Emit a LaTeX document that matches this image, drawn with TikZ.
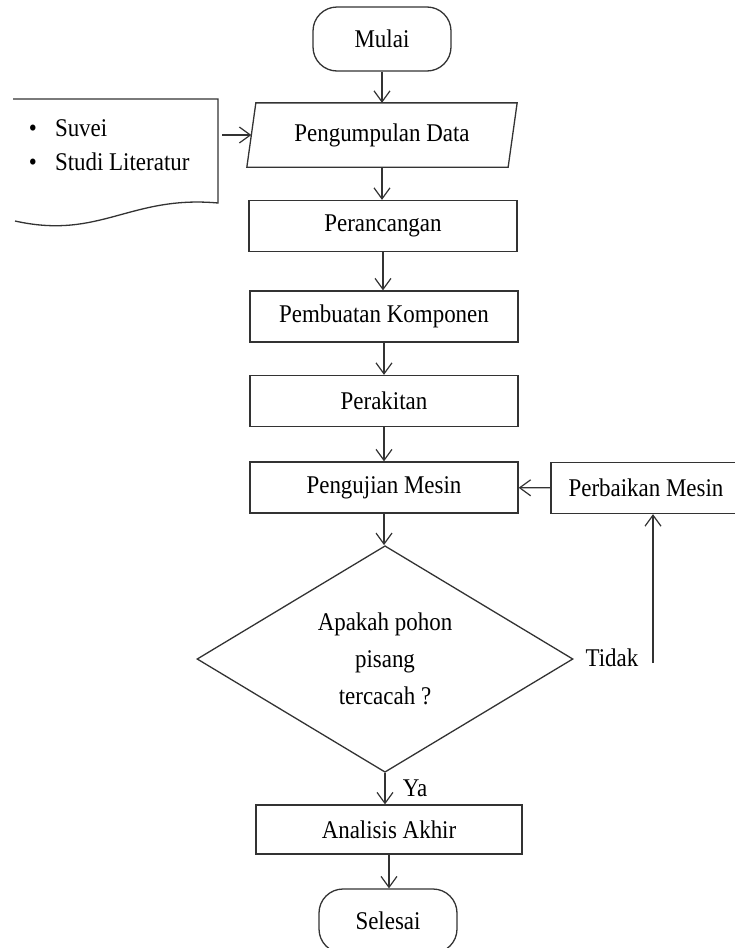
\documentclass[tikz,border=0pt]{standalone}
\usepackage{fontspec}
\setmainfont[FakeStretch=0.9]{Liberation Serif}
\usepackage{tikz}
\usetikzlibrary{shapes.geometric, arrows.meta, positioning}

\begin{document}
\begin{tikzpicture}[
    x=1pt, y=-1pt,
    font=\fontsize{25.5}{37}\selectfont,
    line width=1.3pt,
    terminal/.style={rectangle,rounded corners=24pt,draw=black!80,minimum width=138pt,minimum height=64pt},
    io/.style={rectangle,minimum width=260pt,minimum height=63pt},
    process/.style={rectangle,draw=black!80,minimum width=268pt,minimum height=51pt},
    decision/.style={diamond,draw=black!80,align=center,inner sep=0pt,minimum width=376pt,minimum height=212pt},
    arrow/.style={->,>={Straight Barb[length=11pt,width=16pt]},line width=1.2pt,draw=black!80}
]
\useasboundingbox (0,0) rectangle (734,948);

\node[terminal] (start) at (382,39) {Mulai};
\node[io] (collect) at (382,135) {Pengumpulan Data};
\node[process] (design) at (383,226) {Perancangan};
\node[process] (build) at (384,316.5) {Pembuatan Komponen};
\node[process] (assembly) at (384,401) {Perakitan};
\node[process] (test) at (384,487.5) {Pengujian Mesin};
\node[process, minimum width=190pt] (repair) at (646,488) {Perbaikan Mesin};
\node[decision] (check) at (385,659) {Apakah pohon\\pisang\\tercacah ?};
\node[process, minimum width=266pt, minimum height=49pt] (analysis) at (389,829.5) {Analisis Akhir};
\node[terminal] (finish) at (388,921) {Selesai};

% slanted input box around the data node
\draw[draw=black!80] ([xshift=4.5pt]collect.north west) -- ([xshift=4.5pt]collect.north east)
    -- ([xshift=-4.5pt]collect.south east) -- ([xshift=-4.5pt]collect.south west) -- cycle;

% document with the data sources
\draw[draw=black!80] (13,99) -- (218,99) -- (218,203)
    .. controls (130,195) and (100,240) .. (15,221);
\node[anchor=west, align=left, font=\fontsize{25.5}{34}\selectfont] (sources) at (25,145)
    {\textbullet\hspace{18pt}Suvei\\ \textbullet\hspace{18pt}Studi Literatur};
\coordinate (sources out) at (222,135);

\node (no) at (612,658) {Tidak};
\coordinate (no up) at (653,663);

\draw[arrow] (start.south) -- (start.south |- collect.north);
\draw[arrow] (sources out) -- (collect);
\draw[arrow] (collect.south) -- (collect.south |- design.north);
\draw[arrow] (design.south) -- (design.south |- build.north);
\draw[arrow] (build.south) -- (build.south |- assembly.north);
\draw[arrow] (assembly.south) -- (assembly.south |- test.north);
\draw[arrow] (test.south) -- (test.south |- check.north);
\draw[arrow] (check.south) -- node[right=14pt] {Ya} (check.south |- analysis.north);
\draw[arrow] (analysis.south) -- (analysis.south |- finish.north);
\draw[arrow] (no up) -- (no up |- repair.south);
\draw[arrow] (repair) -- (test);

\end{tikzpicture}
\end{document}
